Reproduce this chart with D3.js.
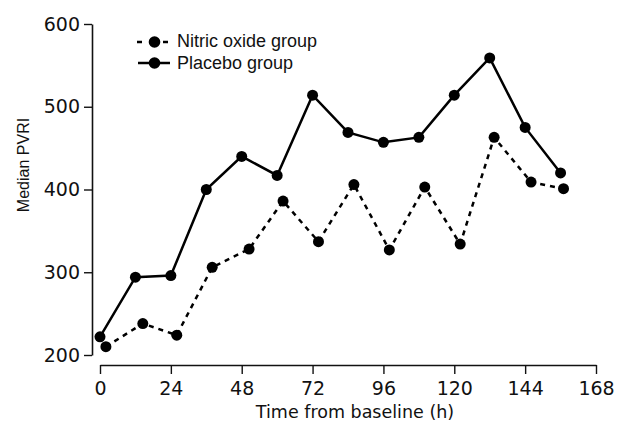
<!DOCTYPE html>
<html>
<head>
<meta charset="utf-8">
<script src="https://cdn.jsdelivr.net/npm/d3@7"></script>
<style>
  body { margin: 0; background: #fff; }
  text { font-family: "Liberation Sans", Arial, sans-serif; fill: #111; }
</style>
</head>
<body>
<svg id="chart" width="617" height="426"></svg>
<script>
// Placebo group: hours and median PVRI
const placeboHours = [0, 12, 24, 36, 48, 60, 72, 84, 96, 108, 120, 132, 144, 156];
const placeboValues = [222, 294, 296, 400, 440, 417, 514, 469, 457, 463, 514, 559, 475, 420];

// Nitric oxide group (points drawn slightly offset in time)
const noHours = [2, 14.5, 26, 38, 50.5, 62, 74, 86, 98, 110, 122, 133.5, 146, 157];
const noValues = [210, 238, 224, 306, 328, 386, 337, 406, 327, 403, 334, 463, 409, 401];

const xTicks = [0, 24, 48, 72, 96, 120, 144, 168];
const yTicks = [200, 300, 400, 500, 600];

const svg = d3.select('#chart');

const x = d3.scaleLinear().domain([0, 168]).range([100, 596]);
const y = d3.scaleLinear().domain([200, 600]).range([355, 24]);

// axes
const yAxis = svg.append('g')
  .attr('transform', 'translate(92,0)')
  .call(d3.axisLeft(y).tickValues(yTicks).tickSize(8).tickPadding(4).tickSizeOuter(0));
const xAxis = svg.append('g')
  .attr('transform', 'translate(0,365)')
  .call(d3.axisBottom(x).tickValues(xTicks).tickSize(9).tickPadding(8).tickSizeOuter(0));

[yAxis, xAxis].forEach(g => {
  g.select('.domain').attr('stroke', '#111').attr('stroke-width', 1.6);
  g.selectAll('.tick line').attr('stroke', '#111').attr('stroke-width', 1.4);
  g.selectAll('.tick text')
    .style('font-family', '"DejaVu Sans", sans-serif')
    .style('font-size', '19px')
    .attr('fill', '#111');
});

// axis titles
svg.append('text')
  .attr('x', 355).attr('y', 418)
  .attr('text-anchor', 'middle')
  .style('font-family', '"DejaVu Sans", sans-serif')
  .style('font-size', '17.5px')
  .text('Time from baseline (h)');

svg.append('text')
  .attr('transform', 'translate(29,165) rotate(-90)')
  .attr('text-anchor', 'middle')
  .style('font-size', '16px')
  .text('Median PVRI');

const line = d3.line().x(d => x(d[0])).y(d => y(d[1]));

const noData = d3.zip(noHours, noValues);
const placeboData = d3.zip(placeboHours, placeboValues);

svg.append('path')
  .datum(noData)
  .attr('d', line)
  .attr('fill', 'none')
  .attr('stroke', '#000')
  .attr('stroke-width', 2.5)
  .attr('stroke-dasharray', '5,5');

svg.append('path')
  .datum(placeboData)
  .attr('d', line)
  .attr('fill', 'none')
  .attr('stroke', '#000')
  .attr('stroke-width', 2.5);

svg.append('g').selectAll('circle')
  .data(noData.concat(placeboData))
  .join('circle')
  .attr('cx', d => x(d[0]))
  .attr('cy', d => y(d[1]))
  .attr('r', 5.5)
  .attr('fill', '#000');

// legend
const legend = svg.append('g').attr('transform', 'translate(137,42)');
legend.append('line')
  .attr('x1', 0).attr('x2', 31).attr('y1', 0).attr('y2', 0)
  .attr('stroke', '#000').attr('stroke-width', 2.5)
  .attr('stroke-dasharray', '5,21');
legend.append('circle').attr('cx', 17.5).attr('cy', 0).attr('r', 5.8).attr('fill', '#000');
legend.append('text').attr('x', 40).attr('y', 5).style('font-size', '18px').text('Nitric oxide group');

legend.append('line')
  .attr('x1', 1).attr('x2', 33).attr('y1', 21).attr('y2', 21)
  .attr('stroke', '#000').attr('stroke-width', 2.5);
legend.append('circle').attr('cx', 17.5).attr('cy', 21).attr('r', 5.8).attr('fill', '#000');
legend.append('text').attr('x', 40).attr('y', 27).style('font-size', '18px').text('Placebo group');
</script>
</body>
</html>
